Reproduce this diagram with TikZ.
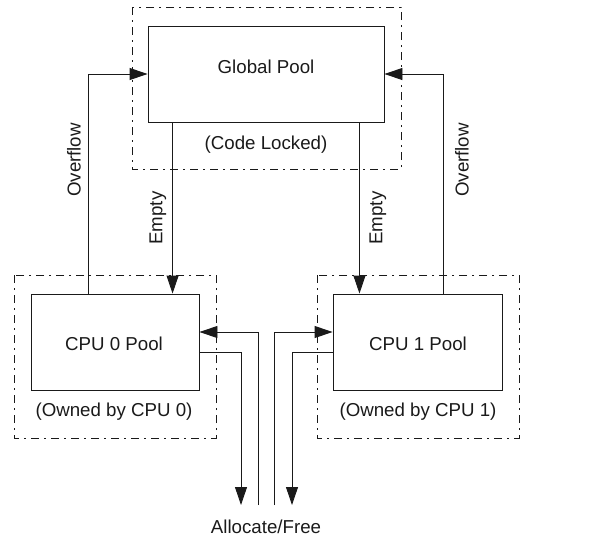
\documentclass[tikz,border=0pt]{standalone}
\usepackage{fontspec}
\setmainfont{Liberation Sans}
\usepackage{tikz}
\usetikzlibrary{arrows.meta,positioning,calc}
\definecolor{ink}{HTML}{1A1A1A}
\tikzset{
  pool/.style={draw=ink,line width=.9pt,minimum height=96pt,inner sep=0pt},
  owner/.style={draw=ink,line width=.8pt,dash pattern=on 8pt off 5pt on 2pt off 5pt},
  flow/.style={draw=ink,line width=.9pt,-{Triangle[length=18pt,width=12pt]}},
  lab/.style={text=ink,inner sep=0pt}
}
\begin{document}
\begin{tikzpicture}[x=1pt,y=-1pt,font=\fontsize{18.7}{22}\selectfont]
\useasboundingbox (0,0) rectangle (595,539);
% pools
\node[pool,minimum width=236pt] (gpool) at (266,74) {};
\node[lab] at (266,67) {Global Pool};
\node[pool,minimum width=168pt] (cpu0) at (115,342) {};
\node[lab] at (114,344) {CPU 0 Pool};
\node[pool,minimum width=169pt] (cpu1) at (417.5,342) {};
\node[lab] at (418,344) {CPU 1 Pool};
% dash-dot owner boxes
\draw[owner] (132,7) rectangle (401,169);
\node[lab] (glock) at (266,145) {(Code Locked)};
\draw[owner] (14,275) rectangle (216,438);
\node[lab] (own0) at (114,412) {(Owned by CPU 0)};
\draw[owner] (317,275) rectangle (519,438);
\node[lab] (own1) at (418,412) {(Owned by CPU 1)};
% overflow and empty
\draw[flow] (cpu0.north west)++(58,0) |- (gpool.west);
\draw[flow] (cpu1.north east)++(-59,0) |- (gpool.east);
\draw[flow] (gpool.south west)++(25,0) coordinate (e0) -- (e0 |- cpu0.north);
\draw[flow] (gpool.south east)++(-25,0) coordinate (e1) -- (e1 |- cpu1.north);
\node[lab,rotate=90] at (74,160) {Overflow};
\node[lab,rotate=90] at (462,160) {Overflow};
\node[lab,rotate=90] at (158,218) {Empty};
\node[lab,rotate=90] at (378,218) {Empty};
% allocate/free
\node[lab] (alloc) at (266,527) {Allocate/Free};
\coordinate (in0) at (258,505);
\coordinate (out0) at (241,505);
\coordinate (in1) at (274,505);
\coordinate (out1) at (292,505);
\draw[flow] (in0) |- ($(cpu0.east)+(0,-10)$);
\draw[flow] ($(cpu0.east)+(0,10)$) -| (out0);
\draw[flow] (in1) |- ($(cpu1.west)+(0,-10)$);
\draw[flow] ($(cpu1.west)+(0,10)$) -| (out1);
\end{tikzpicture}
\end{document}
